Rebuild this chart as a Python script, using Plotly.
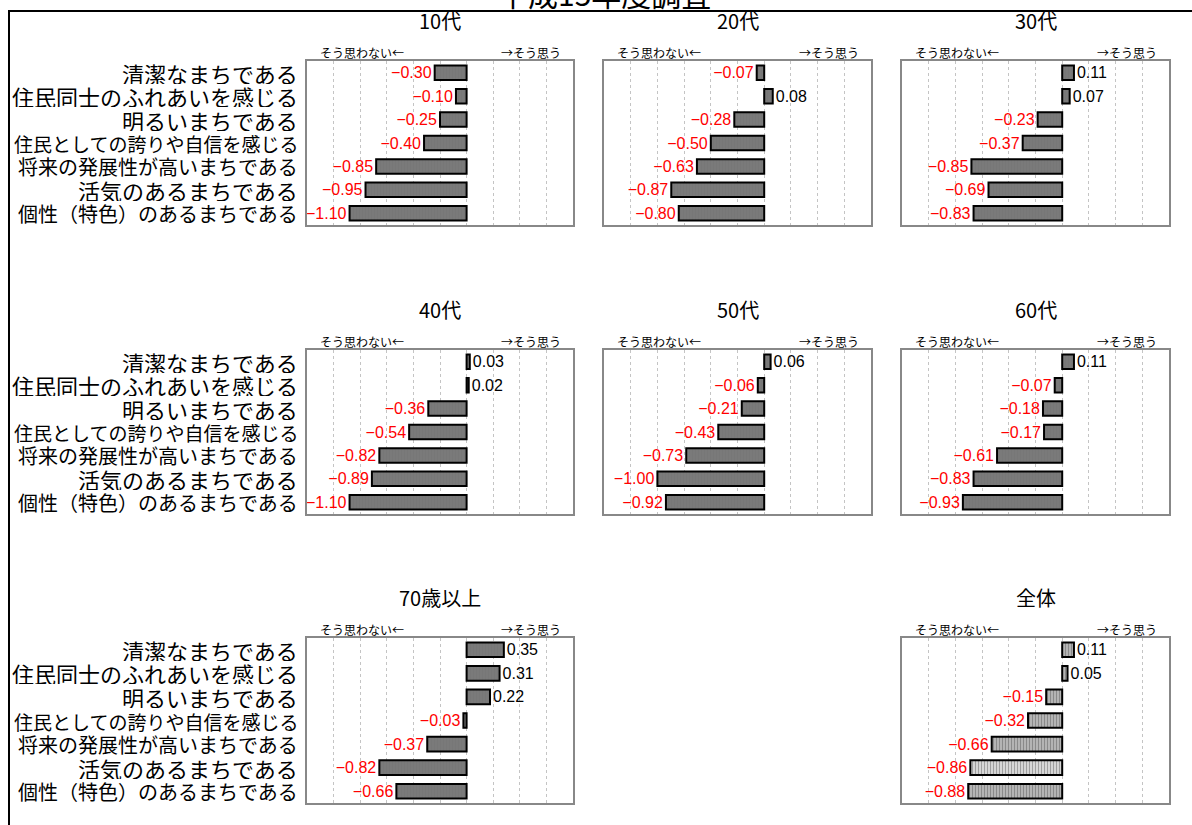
import plotly.graph_objects as go

W, H = 1192, 825

categories = ["清潔なまちである", "住民同士のふれあいを感じる", "明るいまちである",
              "住民としての誇りや自信を感じる", "将来の発展性が高いまちである",
              "活気のあるまちである", "個性（特色）のあるまちである"]
label_sizes = [22, 22, 22, 19, 20, 22, 20]

panel_titles = ["10代", "20代", "30代", "40代", "50代", "60代", "70歳以上", "全体"]
v10 = [-0.30, -0.10, -0.25, -0.40, -0.85, -0.95, -1.10]
v20 = [-0.07, 0.08, -0.28, -0.50, -0.63, -0.87, -0.80]
v30 = [0.11, 0.07, -0.23, -0.37, -0.85, -0.69, -0.83]
v40 = [0.03, 0.02, -0.36, -0.54, -0.82, -0.89, -1.10]
v50 = [0.06, -0.06, -0.21, -0.43, -0.73, -1.00, -0.92]
v60 = [0.11, -0.07, -0.18, -0.17, -0.61, -0.83, -0.93]
v70 = [0.35, 0.31, 0.22, -0.03, -0.37, -0.82, -0.66]
vall = [0.11, 0.05, -0.15, -0.32, -0.66, -0.86, -0.88]
series = [v10, v20, v30, v40, v50, v60, v70, vall]

main_title = "平成15年度調査"
left_hint = "そう思わない←"
right_hint = "→そう思う"

FONT = "Noto Sans CJK JP"
NUMFONT = "Liberation Sans Narrow, Arial Narrow, Liberation Sans"

# pixel layout of panels (left,right) and (top,bottom)
cols = [(307, 573), (604, 871), (902, 1169)]
rows = [(61, 225), (350, 514), (638, 803)]
slots = [(0, 0), (0, 1), (0, 2), (1, 0), (1, 1), (1, 2), (2, 0), (2, 2)]

fig = go.Figure()
annotations = []
layout = {}

for i, (title, vals, (r, c)) in enumerate(zip(panel_titles, series, slots)):
    n = i + 1
    xa = "x" if n == 1 else f"x{n}"
    ya = "y" if n == 1 else f"y{n}"
    xkey = "xaxis" if n == 1 else f"xaxis{n}"
    ykey = "yaxis" if n == 1 else f"yaxis{n}"
    x0, x1 = cols[c]
    t0, t1 = rows[r]
    is_all = title == "全体"
    if is_all:
        colors = ["#b4b4b4"] * len(vals)
        colors[5] = "#d6d6d6"
        marker = dict(color=colors, line=dict(color="#000000", width=2),
                      pattern=dict(shape="|", fgcolor="#8c8c8c", size=3, solidity=0.25))
    else:
        marker = dict(color="#7a7a7a", line=dict(color="#000000", width=2),
                      pattern=dict(shape="|", fgcolor="#6e6e6e", size=3, solidity=0.2))
    texts = [f"{v:.2f}".replace("-", "−") for v in vals]
    tcolors = ["#ff0000" if v < 0 else "#000000" for v in vals]
    fig.add_trace(go.Bar(
        x=vals, y=categories, orientation="h", xaxis=xa, yaxis=ya,
        marker=marker, text=texts, textposition="outside",
        textfont=dict(family=NUMFONT, size=16, color=tcolors),
        cliponaxis=False, constraintext="none", showlegend=False, width=0.62,
    ))
    layout[xkey] = dict(domain=[x0 / W, x1 / W], range=[-1.5, 1.0], anchor=ya,
                        showticklabels=False, ticks="", dtick=0.25, tick0=0,
                        showgrid=True, gridcolor="#c4c4c4", griddash="dot", gridwidth=1,
                        zeroline=False, showline=True, linecolor="#888888", linewidth=2,
                        mirror=True, fixedrange=True)
    layout[ykey] = dict(domain=[1 - t1 / H, 1 - t0 / H], anchor=xa,
                        categoryorder="array", categoryarray=categories,
                        range=[6.5, -0.5], showticklabels=False, ticks="",
                        showgrid=False, zeroline=False, showline=True,
                        linecolor="#888888", linewidth=2, mirror=True, fixedrange=True)
    # panel title
    annotations.append(dict(text=title, xref=f"{xa} domain", yref=f"{ya} domain",
                            x=0.5, y=1, yanchor="middle", xanchor="center", yshift=41,
                            showarrow=False, font=dict(family=FONT, size=20, color="#000")))
    annotations.append(dict(text=left_hint, xref=f"{xa} domain", yref=f"{ya} domain",
                            x=0.045, y=1, xanchor="left", yanchor="bottom", yshift=-1,
                            borderpad=0, showarrow=False,
                            font=dict(family=FONT, size=12, color="#000")))
    annotations.append(dict(text=right_hint, xref=f"{xa} domain", yref=f"{ya} domain",
                            x=0.96, y=1, xanchor="right", yanchor="bottom", yshift=-1,
                            borderpad=0, showarrow=False,
                            font=dict(family=FONT, size=12, color="#000")))
    if c == 0:
        for cat, fs in zip(categories, label_sizes):
            annotations.append(dict(text=cat, xref=f"{xa} domain", yref=ya,
                                    x=-0.03, y=cat, xanchor="right", yanchor="middle",
                                    height=22, valign="middle",
                                    borderpad=0, showarrow=False,
                                    font=dict(family=FONT, size=fs, color="#000")))

annotations.append(dict(text=main_title, xref="paper", yref="paper",
                        x=604 / W, y=1 + 7 / H, xanchor="center", yanchor="middle",
                        showarrow=False, font=dict(family=FONT, size=30, color="#000")))

fig.update_layout(
    width=W, height=H, margin=dict(l=0, r=0, t=0, b=0),
    paper_bgcolor="#ffffff", plot_bgcolor="#ffffff",
    annotations=annotations, bargap=0.38,
    shapes=[dict(type="rect", xref="paper", yref="paper",
                 x0=9 / W, x1=1.02, y0=-0.02, y1=1 - 11 / H,
                 line=dict(color="#000000", width=2), layer="below")],
    **layout,
)

fig.write_html("out.html")
